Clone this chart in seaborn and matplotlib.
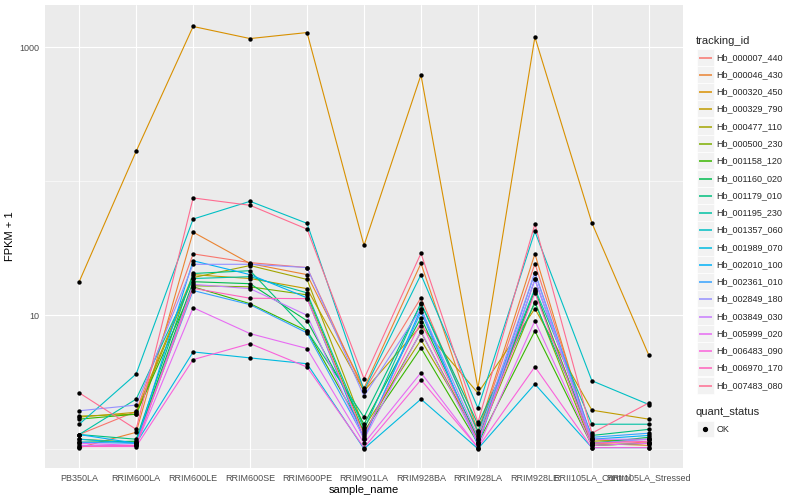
import numpy as np
import pandas as pd
import matplotlib
matplotlib.use('Agg')
import matplotlib.pyplot as plt
import seaborn as sns
from matplotlib.patches import Rectangle
from matplotlib.lines import Line2D
from matplotlib.ticker import FixedLocator, NullFormatter

# samples on the x axis
samples = ['PB350LA', 'RRIM600LA', 'RRIM600LE', 'RRIM600SE', 'RRIM600PE', 'RRIM901LA',
           'RRIM928BA', 'RRIM928LA', 'RRIM928LE', 'RRII105LA_Control', 'RRII105LA_Stressed']

# FPKM + 1 per gene, one value per sample
Hb_000007_440 = [1.29, 1.92, 28.7, 24.7, 22.7, 2.72, 13.5, 1.32, 24.3, 1.19, 1.11]
Hb_000046_430 = [1.03, 1.34, 41.7, 24.3, 20.1, 2.86, 24.4, 1.36, 28.7, 1.11, 1.07]
Hb_000320_450 = [17.8, 167, 1425, 1158, 1284, 33.2, 620, 2.85, 1188, 48.9, 5.04]
Hb_000329_790 = [1.74, 1.89, 20.1, 18.8, 15.8, 2.72, 8.34, 2.63, 11.2, 1.96, 1.68]
Hb_000477_110 = [1.77, 1.83, 19.1, 23.5, 18.5, 1.46, 6.55, 1.27, 15.3, 1.15, 1.19]
Hb_000500_230 = [1.19, 1.13, 16.6, 16.3, 14.2, 1.32, 7.5, 1.19, 12.6, 1.07, 1.11]
Hb_001158_120 = [1.68, 1.83, 16.3, 12.2, 7.65, 1.36, 5.71, 1.11, 7.65, 1.07, 1.11]
Hb_001160_020 = [1.13, 1.15, 17.8, 17.2, 9.10, 1.54, 9.58, 1.19, 15.3, 1.11, 1.23]
Hb_001179_010 = [1.29, 1.19, 20.5, 21.5, 7.65, 1.74, 12.2, 1.54, 12.4, 1.27, 1.41]
Hb_001195_230 = [1.29, 2.37, 18.8, 19.4, 14.7, 1.41, 12.4, 1.36, 15.8, 1.54, 1.54]
Hb_001357_060 = [1.54, 3.65, 52.2, 70.8, 48.5, 2.76, 20.1, 2.03, 42.2, 3.25, 2.16]
Hb_001989_070 = [1.19, 1.11, 5.33, 4.81, 4.35, 1.01, 2.37, 1.01, 3.07, 1.03, 1.03]
Hb_002010_100 = [1.29, 1.11, 25.5, 20.1, 13.5, 1.19, 11.2, 1.07, 18.5, 1.19, 1.27]
Hb_002361_010 = [1.13, 1.11, 15.3, 12.0, 7.39, 1.23, 10.6, 1.11, 20.8, 1.23, 1.32]
Hb_002849_180 = [1.94, 2.14, 24.0, 24.0, 22.7, 2.49, 11.2, 1.23, 20.8, 1.11, 1.19]
Hb_003849_030 = [1.07, 1.07, 17.0, 15.8, 10.0, 1.19, 7.6, 1.11, 18.5, 1.19, 1.19]
Hb_005999_020 = [1.11, 1.07, 11.4, 7.3, 5.65, 1.11, 3.73, 1.03, 9.1, 1.07, 1.11]
Hb_006483_090 = [1.05, 1.05, 4.67, 6.15, 4.11, 1.03, 3.30, 1.03, 4.13, 1.03, 1.03]
Hb_006970_170 = [1.05, 1.07, 15.9, 13.4, 13.3, 1.27, 8.9, 1.15, 14.7, 1.11, 1.15]
Hb_007483_080 = [2.64, 1.41, 75.0, 66.1, 43.9, 3.36, 29.0, 1.59, 47.9, 1.32, 2.22]

tracking_ids = ['Hb_000007_440', 'Hb_000046_430', 'Hb_000320_450', 'Hb_000329_790', 'Hb_000477_110',
                'Hb_000500_230', 'Hb_001158_120', 'Hb_001160_020', 'Hb_001179_010', 'Hb_001195_230',
                'Hb_001357_060', 'Hb_001989_070', 'Hb_002010_100', 'Hb_002361_010', 'Hb_002849_180',
                'Hb_003849_030', 'Hb_005999_020', 'Hb_006483_090', 'Hb_006970_170', 'Hb_007483_080']
gene_values = [Hb_000007_440, Hb_000046_430, Hb_000320_450, Hb_000329_790, Hb_000477_110,
               Hb_000500_230, Hb_001158_120, Hb_001160_020, Hb_001179_010, Hb_001195_230,
               Hb_001357_060, Hb_001989_070, Hb_002010_100, Hb_002361_010, Hb_002849_180,
               Hb_003849_030, Hb_005999_020, Hb_006483_090, Hb_006970_170, Hb_007483_080]

# ggplot default hue palette for 20 levels
colors = ['#F8766D', '#EA8331', '#D89000', '#C09B00', '#A3A500', '#7CAE00', '#39B600', '#00BB4E',
          '#00BF7D', '#00C1A3', '#00BFC4', '#00BAE0', '#00B0F6', '#35A2FF', '#9590FF', '#C77CFF',
          '#E76BF3', '#FA62DB', '#FF62BC', '#FF6C91']

# long table
rows = []
for tid, vals in zip(tracking_ids, gene_values):
    for i, s in enumerate(samples):
        rows.append({'tracking_id': tid, 'sample_name': s, 'pos': i, 'fpkm': vals[i], 'quant_status': 'OK'})
df = pd.DataFrame(rows)

sns.set_theme(style='darkgrid')
plt.rcParams['font.family'] = ['Liberation Sans', 'DejaVu Sans']

fig = plt.figure(figsize=(8, 5), dpi=100)
ax = fig.add_axes([45 / 800, 32 / 500, 638 / 800, 463 / 500])
ax.set_facecolor('#EBEBEB')

sns.lineplot(data=df, x='pos', y='fpkm', hue='tracking_id', palette=colors, hue_order=tracking_ids,
             linewidth=0.8, legend=False, ax=ax, zorder=2)
sns.scatterplot(data=df, x='pos', y='fpkm', color='black', s=10, linewidth=0, legend=False,
                ax=ax, zorder=3)

ax.set_yscale('log')
ax.set_ylim(10 ** -0.139, 10 ** 3.314)
ax.set_xlim(-0.6, len(samples) - 0.4)

ax.set_xticks(range(len(samples)))
ax.set_xticklabels(samples)
ax.yaxis.set_major_locator(FixedLocator([10, 1000]))
ax.yaxis.set_minor_locator(FixedLocator([1, 100]))
ax.yaxis.set_minor_formatter(NullFormatter())
ax.set_yticklabels(['10', '1000'])

ax.grid(which='major', color='white', linewidth=0.8)
ax.grid(which='minor', axis='y', color='white', linewidth=0.4)
ax.set_axisbelow(True)
for sp in ax.spines.values():
    sp.set_visible(False)
ax.tick_params(axis='both', which='major', length=2.5, width=0.6, color='#333333',
               labelsize=6.5, labelcolor='#4D4D4D', pad=1.5)
ax.tick_params(axis='y', which='minor', length=0)

ax.set_xlabel('sample_name', fontsize=8, color='black', labelpad=1.5)
ax.set_ylabel('FPKM + 1', fontsize=8, color='black', labelpad=3)

# legend drawn in pixel coordinates
lg = fig.add_axes([0, 0, 1, 1], zorder=5)
lg.set_xlim(0, 800)
lg.set_ylim(500, 0)
lg.axis('off')
lg.patch.set_alpha(0)

lg.text(696, 40.5, 'tracking_id', fontsize=8, va='center', ha='left')
step = 17.26
for k, (tid, c) in enumerate(zip(tracking_ids, colors)):
    yc = round(56.7 + k * step) + 0.5
    lg.add_patch(Rectangle((697, yc - step / 2 + 0.5), 16.5, step - 1, facecolor='#F2F2F2',
                           edgecolor='white', linewidth=0.5, zorder=1))
    lg.add_line(Line2D([698.5, 711.5], [yc, yc], color=c, linewidth=1.1, zorder=3,
                       solid_capstyle='butt'))
    lg.text(716.5, yc, tid, fontsize=6.5, va='center', ha='left')

lg.text(696, 412.3, 'quant_status', fontsize=8, va='center', ha='left')
lg.add_patch(Rectangle((697, 429 - step / 2 + 0.5), 16.5, step - 1, facecolor='#F2F2F2',
                       edgecolor='white', linewidth=0.5, zorder=1))
lg.plot([705.2], [429], marker='o', color='black', markersize=2.8, linestyle='none', zorder=3)
lg.text(716.5, 429, 'OK', fontsize=6.5, va='center', ha='left')

fig.savefig('out.png', dpi=100, facecolor='white')
